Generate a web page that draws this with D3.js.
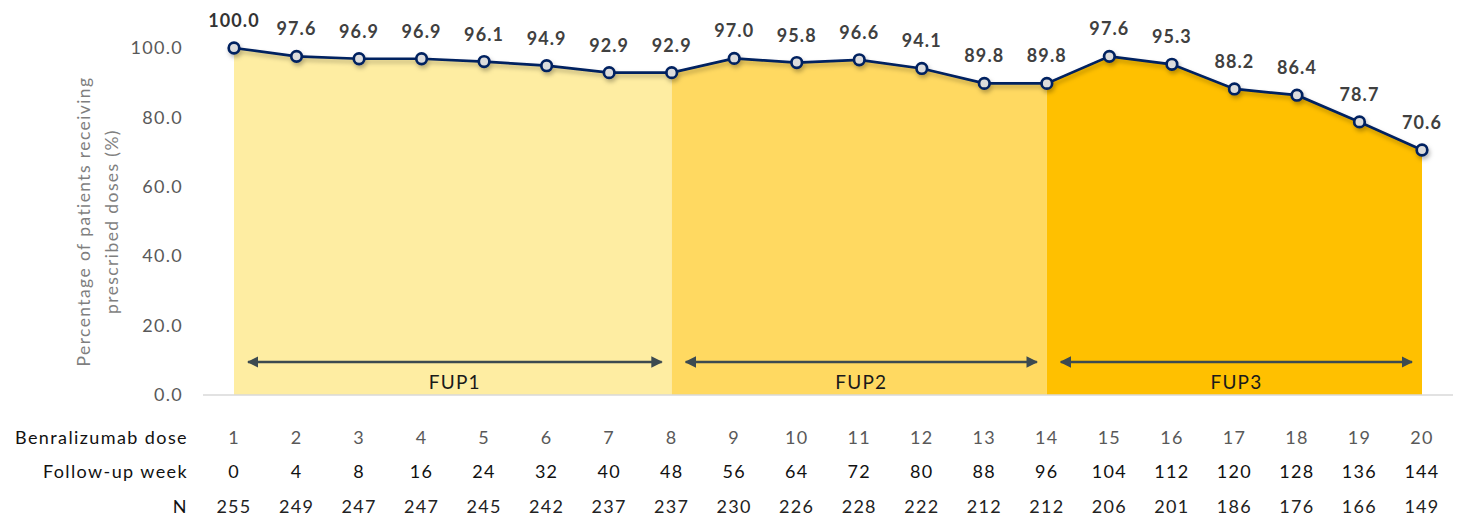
<!DOCTYPE html>
<html>
<head>
<meta charset="utf-8">
<script src="https://d3js.org/d3.v7.min.js"></script>
<style>
  body { margin: 0; background: #fff; font-family: Lato, "Open Sans", sans-serif; }
  svg { display: block; }
</style>
</head>
<body>
<div id="viz"></div>
<script>
// data
const doses = [1,2,3,4,5,6,7,8,9,10,11,12,13,14,15,16,17,18,19,20];
const weeks = [0,4,8,16,24,32,40,48,56,64,72,80,88,96,104,112,120,128,136,144];
const nPatients = [255,249,247,247,245,242,237,237,230,226,228,222,212,212,206,201,186,176,166,149];
const pct = [100.0,97.6,96.9,96.9,96.1,94.9,92.9,92.9,97.0,95.8,96.6,94.1,89.8,89.8,97.6,95.3,88.2,86.4,78.7,70.6];
const phaseNames = ["FUP1","FUP2","FUP3"];
const phaseStart = [1,8,14];
const phaseEnd = [8,14,20];
const phaseColors = ["#FEEDA2","#FFD961","#FFC000"];
const yTicks = [0,20,40,60,80,100];

const W = 1464, H = 526;
const svg = d3.select("#viz").append("svg")
  .attr("width", W).attr("height", H);

const x = d3.scalePoint().domain(doses).range([234, 1422]);
const y = d3.scaleLinear().domain([0, 100]).range([395, 48]);

const rows = doses.map((d, i) => ({dose: d, week: weeks[i], n: nPatients[i], v: pct[i]}));

const defs = svg.append("defs");
const f = defs.append("filter").attr("id", "shadow")
  .attr("x", "-5%").attr("y", "-20%").attr("width", "110%").attr("height", "160%");
f.append("feDropShadow").attr("dx", 1.5).attr("dy", 3).attr("stdDeviation", 2)
  .attr("flood-color", "#000").attr("flood-opacity", 0.28);

// shaded areas under the line, one per follow-up period
const area = d3.area().x(d => x(d.dose)).y0(y(0)).y1(d => y(d.v));
phaseNames.forEach((p, k) => {
  const seg = rows.filter(d => d.dose >= phaseStart[k] && d.dose <= phaseEnd[k]);
  svg.append("path").datum(seg)
    .attr("d", area)
    .attr("fill", phaseColors[k]);
});

// baseline
svg.append("line")
  .attr("x1", 203).attr("x2", 1453)
  .attr("y1", y(0)).attr("y2", y(0))
  .attr("stroke", "#d9d9d9").attr("stroke-width", 1.5);

// y axis labels
const yAxis = svg.append("g")
  .attr("transform", "translate(191,0)")
  .call(d3.axisLeft(y).tickValues(yTicks).tickFormat(d3.format(".1f")).tickSize(0).tickPadding(8));
yAxis.select(".domain").remove();
yAxis.selectAll("text")
  .attr("fill", "#595959")
  .style("font-family", "Lato, sans-serif")
  .style("font-size", "18px")
  .style("letter-spacing", "1.3px");

// y title
const yt = svg.append("text")
  .attr("transform", `translate(0,${(y(0) + y(100)) / 2}) rotate(-90)`)
  .attr("text-anchor", "middle")
  .attr("fill", "#7f7f7f")
  .style("font-size", "17.5px")
  .style("letter-spacing", "1.4px");
yt.append("tspan").attr("x", 0).attr("y", 90).text("Percentage of patients receiving");
yt.append("tspan").attr("x", 0).attr("y", 118).text("prescribed doses (%)");

// arrows
const ah = defs.append("marker").attr("id", "ah")
  .attr("viewBox", "0 0 10 10").attr("refX", 9).attr("refY", 5)
  .attr("markerWidth", 5).attr("markerHeight", 5)
  .attr("markerUnits", "strokeWidth")
  .attr("orient", "auto-start-reverse");
ah.append("path").attr("d", "M0,0 L10,5 L0,10 z").attr("fill", "#3c4a50");

phaseNames.forEach((p, k) => {
  const x0 = x(phaseStart[k]) + 14, x1 = x(phaseEnd[k]) - 10;
  svg.append("line")
    .attr("x1", x0).attr("x2", x1).attr("y1", 362).attr("y2", 362)
    .attr("stroke", "#3c4a50").attr("stroke-width", 2.3)
    .attr("marker-start", "url(#ah)").attr("marker-end", "url(#ah)");
  svg.append("text")
    .attr("x", (x0 + x1) / 2).attr("y", 389)
    .attr("text-anchor", "middle")
    .attr("fill", "#1a1a1a")
    .style("font-size", "19px")
    .style("letter-spacing", "1.2px")
    .text(p);
});

// line and markers
const line = d3.line().x(d => x(d.dose)).y(d => y(d.v));
const g = svg.append("g").attr("filter", "url(#shadow)");
g.append("path").datum(rows)
  .attr("d", line)
  .attr("fill", "none")
  .attr("stroke", "#002060")
  .attr("stroke-width", 2.7);
g.selectAll("circle").data(rows).join("circle")
  .attr("cx", d => x(d.dose)).attr("cy", d => y(d.v))
  .attr("r", 5.3)
  .attr("fill", "#dcdcdc")
  .attr("stroke", "#002060")
  .attr("stroke-width", 2.7);

// value labels
svg.selectAll(".val").data(rows).join("text")
  .attr("class", "val")
  .attr("x", d => x(d.dose)).attr("y", d => y(d.v) - 21)
  .attr("text-anchor", "middle")
  .attr("fill", (d, i) => i === 0 ? "#333" : "#404040")
  .style("font-size", "18px")
  .style("font-weight", "bold")
  .style("letter-spacing", "1.1px")
  .text(d => d3.format(".1f")(d.v));

// table below
const tableRows = [
  {label: "Benralizumab dose", key: "dose", y: 444, color: "#595959"},
  {label: "Follow-up week", key: "week", y: 478, color: "#111"},
  {label: "N", key: "n", y: 513, color: "#222"}
];
tableRows.forEach(r => {
  svg.append("text")
    .attr("x", 188).attr("y", r.y)
    .attr("text-anchor", "end")
    .attr("fill", "#111")
    .style("font-size", "18px")
    .style("letter-spacing", "1.4px")
    .text(r.label);
  svg.selectAll(".c-" + r.key).data(rows).join("text")
    .attr("class", "c-" + r.key)
    .attr("x", d => x(d.dose)).attr("y", r.y)
    .attr("text-anchor", "middle")
    .attr("fill", r.color)
    .style("font-size", "18px")
    .style("letter-spacing", "1.3px")
    .text(d => d[r.key]);
});
</script>
</body>
</html>
